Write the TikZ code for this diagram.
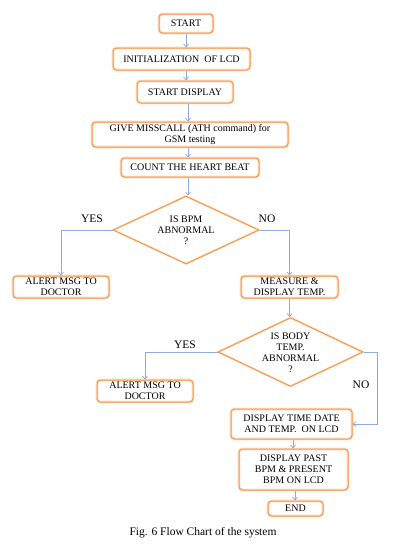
\documentclass[tikz,border=0pt]{standalone}
\usepackage{fontspec}
\setmainfont{Liberation Serif}
\usetikzlibrary{shapes.geometric,arrows.meta}
\definecolor{orng}{RGB}{247,150,70}
\definecolor{arrblue}{RGB}{143,170,220}
\begin{document}
\begin{tikzpicture}[x=1pt,y=-1pt,
  boxtxt/.style={font=\fontsize{10}{11}\selectfont},
  procbox/.style={draw=orng, line width=1pt, rounded corners=3.5pt, align=center, inner sep=0pt,
     preaction={draw=orng!30, line width=2.6pt}, boxtxt},
  decision/.style={shape=diamond, draw=orng, line width=1pt, inner sep=0pt,
     preaction={draw=orng!25, line width=2.2pt}},
  dtext/.style={align=center, inner sep=0pt, boxtxt},
  lbl/.style={font=\fontsize{11.5}{13}\selectfont, inner sep=0pt},
  flow/.style={draw=arrblue, line width=0.7pt, -{Straight Barb[length=3pt,width=5pt]}}
]
\useasboundingbox (0,0) rectangle (406,546);
\fill[white] (0,0) rectangle (406,546);

\node[procbox, minimum width=54pt, minimum height=19pt] (start) at (186,23.5) {START};
\node[procbox, minimum width=137pt, minimum height=22pt] (init) at (181.5,59) {INITIALIZATION\ \ OF LCD};
\node[procbox, minimum width=96pt, minimum height=22pt] (sdisp) at (185,92) {START DISPLAY};
\node[procbox, minimum width=196pt, minimum height=25pt] (miss) at (190,134.5) {GIVE MISSCALL (ATH command) for\\GSM testing};
\node[procbox, minimum width=138pt, minimum height=19pt] (count) at (190,167.5) {COUNT THE HEART BEAT};

\node[decision, minimum width=146pt, minimum height=68pt] (d1) at (186,230) {};
\node[dtext] (d1t) at (186,230) {IS BPM\\ABNORMAL\\?};

\node[procbox, minimum width=96pt, minimum height=22pt] (alert1) at (61,287) {ALERT MSG TO\\DOCTOR};
\node[procbox, minimum width=97pt, minimum height=22pt] (measure) at (289.5,287) {MEASURE \&\\DISPLAY TEMP.};

\node[decision, minimum width=145pt, minimum height=69pt] (d2) at (290.5,352) {};
\node[dtext] (d2t) at (290.5,352.5) {IS BODY\\TEMP.\\ABNORMAL\\?};

\node[procbox, minimum width=96pt, minimum height=22pt] (alert2) at (145,391) {ALERT MSG TO\\DOCTOR};
\node[procbox, minimum width=121pt, minimum height=30pt] (dtime) at (291.5,424) {DISPLAY TIME DATE\\AND TEMP.\ \ ON LCD};
\node[procbox, minimum width=109pt, minimum height=41pt] (dpast) at (293.5,469.5) {DISPLAY PAST\\BPM \& PRESENT\\BPM ON LCD};
\node[procbox, minimum width=55pt, minimum height=15pt] (end) at (295.5,508.5) {END};

\node[lbl] (yes1) at (92,219) {YES};
\node[lbl] (no1) at (267,219) {NO};
\node[lbl] (yes2) at (185,345) {YES};
\node[lbl] (no2) at (361,385) {NO};

\node[font=\fontsize{11.5}{13}\selectfont, inner sep=0pt] (cap) at (203,533) {Fig. 6 Flow Chart of the system};

% connectors
\draw[flow] (start.south) -- (start.south |- init.north);
\draw[flow] (init.south -| start.south) -- (start.south |- sdisp.north);
\draw[flow] (sdisp.south -| d1.north) ++(2,0) coordinate (c1) -- (c1 |- miss.north);
\draw[flow] (miss.south -| c1) -- (c1 |- count.north);
\draw[flow] (count.south -| c1) -- (c1 |- d1.north);
\draw[flow] (d1.west) -- (alert1.north |- d1.west) -- (alert1.north);
\draw[flow] (d1.east) -- (measure.north |- d1.east) -- (measure.north);
\draw[flow] (measure.south) -- (measure.south |- d2.north);
\draw[flow] (d2.west) -- (alert2.north |- d2.west) -- (alert2.north);
\draw[flow] (d2.east) -- ++(14,0) coordinate (c2) -- (c2 |- dtime.east) -- (dtime.east);
\draw[flow] (dtime.south) ++(1.5,0) coordinate (c3) -- (c3 |- dpast.north);
\draw[flow] (dpast.south) ++(1.5,0) coordinate (c4) -- (c4 |- end.north);
\end{tikzpicture}
\end{document}
